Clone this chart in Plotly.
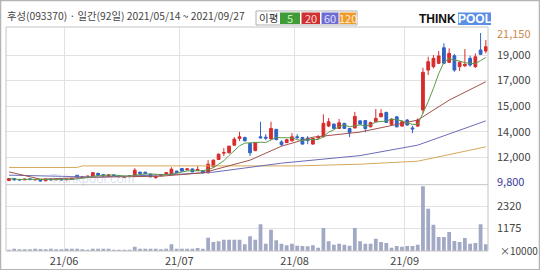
import plotly.graph_objects as go
import pandas as pd

# ---------------- data ----------------
days = list(range(92))  # trading days 2021/05/14 .. 2021/09/27
month_ticks = [10.5, 32.5, 54.5, 75.5]
month_labels = ["21/06", "21/07", "21/08", "21/09"]

opens = [9850, 10000, 9920, 9900, 9980, 9900, 9900, 9830, 9950, 9900,
         9940, 9900, 9950, 10250, 10100, 10150, 10150, 10400, 10300, 10200,
         10280, 10200, 10100, 10150, 10180, 10490, 10490, 10340, 10070, 10220,
         10380, 10340, 10570, 10770, 10670, 10740, 10620, 10590, 10440, 10900,
         11460, 11950, 11970, 12560, 13070, 13150, 12690, 12140, 13200, 13170,
         13040, 13770, 12810, 12750, 12890, 13200, 13150, 13100, 12640, 13120,
         13200, 14020, 14170, 13840, 14230, 13830, 13880, 14420, 14440, 13960,
         14350, 14730, 15070, 14150, 14730, 14020, 14480, 13880, 14020, 15250,
         18310, 18570, 18830, 20020, 18900, 19410, 18570, 18640, 19210, 18570,
         19850, 19770]
highs = [10050, 10050, 9950, 10000, 10000, 9960, 9920, 10000, 9980, 9950,
         9960, 9980, 10050, 10280, 10200, 10220, 10480, 10450, 10330, 10320,
         10300, 10230, 10200, 10250, 10800, 10530, 10510, 10370, 10260, 10330,
         10490, 10870, 10600, 10800, 10790, 10770, 10950, 10620, 11410, 11460,
         11920, 12330, 12520, 13170, 13580, 13200, 12730, 12780, 14350, 13400,
         14350, 13800, 12940, 13020, 13480, 13400, 13190, 13250, 13110, 13330,
         14920, 14630, 14210, 14560, 14260, 13860, 15110, 14460, 14480, 14340,
         15320, 15320, 15110, 14600, 14770, 14390, 14560, 14040, 14610, 18490,
         19330, 19460, 19770, 20360, 19980, 19540, 19000, 19920, 19410, 19590,
         21150, 20610]
lows = [9800, 9850, 9850, 9880, 9900, 9870, 9800, 9800, 9870, 9880,
        9880, 9880, 9930, 10080, 10080, 10120, 10120, 10200, 10150, 10180,
        10150, 10080, 10050, 10120, 10110, 10340, 10340, 10100, 10000, 10180,
        10340, 10300, 10420, 10530, 10620, 10490, 10590, 10400, 10400, 10850,
        11420, 11720, 11940, 12520, 12870, 12850, 11720, 12100, 13080, 12940,
        13000, 12940, 12480, 12720, 12850, 13020, 12600, 12640, 12600, 13020,
        13160, 13940, 13800, 13790, 13800, 13170, 13840, 14130, 13540, 13930,
        14310, 14700, 14260, 14110, 13930, 13980, 14060, 13480, 13960, 14990,
        17930, 18440, 18770, 18770, 18850, 18180, 18240, 18540, 18570, 18470,
        19460, 19590]
closes = [10000, 9900, 9900, 9950, 9920, 9930, 9820, 9960, 9900, 9930,
          9900, 9950, 10000, 10100, 10150, 10180, 10450, 10250, 10200, 10280,
          10200, 10150, 10150, 10200, 10640, 10380, 10380, 10130, 10150, 10300,
          10450, 10720, 10450, 10570, 10740, 10510, 10700, 10440, 11100, 11410,
          11870, 11980, 12480, 13020, 13200, 12890, 11970, 12740, 13120, 13100,
          13840, 12980, 12600, 12980, 13200, 13140, 12640, 12910, 13070, 13200,
          14230, 14350, 13840, 14270, 13840, 13520, 14760, 14170, 13830, 14300,
          14610, 14990, 14300, 14560, 13960, 14350, 14100, 13800, 14480, 18140,
          18950, 19210, 19390, 18830, 19590, 18310, 18900, 18750, 18700, 19330,
          19520, 20100]
volumes = [70, 121, 87, 87, 87, 121, 104, 87, 121, 87,
           87, 121, 121, 121, 87, 70, 121, 121, 121, 121,
           70, 70, 70, 70, 225, 121, 121, 121, 121, 87,
           121, 347, 121, 121, 121, 121, 156, 121, 694, 468,
           503, 590, 590, 590, 590, 347, 763, 590, 1388, 380,
           1110, 555, 380, 295, 380, 278, 260, 243, 295, 174,
           1197, 503, 330, 380, 330, 278, 1197, 503, 380, 380,
           642, 468, 416, 174, 260, 226, 260, 260, 330, 3365,
           2203, 1370, 729, 729, 989, 520, 468, 677, 382, 416,
           1388, 347]  # x10000 shares

# moving averages (day index, price)
ma20_days = [0, 6, 17, 29, 37, 41, 46, 52, 58, 67, 78, 84, 91]
ma20_vals = [10510, 9950, 10110, 10180, 10440, 10870, 11410, 12480, 13170, 13560, 14480, 16010, 17420]
ma60_days = [0, 17, 33, 39, 52, 67, 78, 91]
ma60_vals = [10260, 10110, 10340, 10490, 11180, 11760, 12560, 14420]
ma120_days = [0, 13, 14, 34, 55, 67, 78, 91]
ma120_vals = [10850, 10850, 10970, 10950, 10970, 11100, 11330, 12430]

price_grid = [11625, 13585, 15545, 17505, 19465]
price_labels = ["12,000", "14,000", "15,000", "17,000", "19,000"]
price_max, price_min = 21150, 9800
vol_grid = [1175, 2320]
vol_labels = ["1175", "2320"]

ma5 = pd.Series(closes).rolling(5, min_periods=1).mean().tolist()

# ---------------- layout helpers ----------------
W, H = 540, 270
ML, MR, MT, MB = 6, 52, 27, 19.25
PW, PH = W - ML - MR, H - MT - MB
def fx(px): return (px - ML) / PW
def fy(py): return (H - MB - py) / PH
split = fy(184.5)

RED, BLUE = "#d92b2b", "#2f63c6"
FONT = "Noto Sans CJK KR"

fig = go.Figure()
fig.add_trace(go.Scatter(x=ma120_days, y=ma120_vals, mode="lines",
                         line=dict(color="#d6a85a", width=1), xaxis="x", yaxis="y"))
fig.add_trace(go.Scatter(x=ma60_days, y=ma60_vals, mode="lines",
                         line=dict(color="#6b6bb8", width=1), xaxis="x", yaxis="y"))
fig.add_trace(go.Scatter(x=ma20_days, y=ma20_vals, mode="lines",
                         line=dict(color="#a0524a", width=1), xaxis="x", yaxis="y"))
fig.add_trace(go.Scatter(x=days, y=ma5, mode="lines",
                         line=dict(color="#5a9a4a", width=1), xaxis="x", yaxis="y"))
fig.add_trace(go.Candlestick(
    x=days, open=opens, high=highs, low=lows, close=closes,
    increasing=dict(line=dict(color=RED, width=1), fillcolor=RED),
    decreasing=dict(line=dict(color=BLUE, width=1), fillcolor=BLUE),
    whiskerwidth=0, xaxis="x", yaxis="y"))
fig.add_trace(go.Bar(x=days, y=volumes, width=0.72, marker=dict(color="#a2a9c4", line=dict(width=0)),
                     xaxis="x2", yaxis="y2"))

xr = [(ML - 9) / 5.24, (ML + PW - 9) / 5.24]
common_x = dict(range=xr, tickvals=month_ticks, showgrid=True, gridcolor="#e2e2e2",
                gridwidth=1, zeroline=False, showline=False, fixedrange=True, automargin=False)
fig.update_layout(
    width=W, height=H, margin=dict(l=ML, r=MR, t=MT, b=MB),
    paper_bgcolor="white", plot_bgcolor="white", showlegend=False,
    boxgap=0.25,
    xaxis=dict(**common_x, anchor="y", showticklabels=False, rangeslider=dict(visible=False)),
    xaxis2=dict(**common_x, anchor="y2", matches="x", ticktext=month_labels, ticks="",
                tickfont=dict(family=FONT, size=11, color="#444"), ticklabelstandoff=2),
    yaxis=dict(domain=[split, 1], range=[9531.5, 21610], side="right", tickvals=price_grid,
               ticktext=price_labels, showgrid=True, gridcolor="#e2e2e2", zeroline=False,
               ticks="", ticklabelstandoff=8, automargin=False,
               tickfont=dict(family=FONT, size=11, color="#444")),
    yaxis2=dict(domain=[0, split], range=[0, 3448], side="right", tickvals=vol_grid,
                ticktext=vol_labels, showgrid=True, gridcolor="#e2e2e2", zeroline=False,
                ticks="", ticklabelstandoff=8, automargin=False,
                tickfont=dict(family=FONT, size=11, color="#444")),
)

shapes = [
    dict(type="rect", xref="paper", yref="paper", x0=0, x1=1, y0=0, y1=1,
         line=dict(color="#c4c4c4", width=1)),
    dict(type="line", xref="paper", yref="paper", x0=0, x1=1, y0=split, y1=split,
         line=dict(color="#c4c4c4", width=1)),
    dict(type="rect", xref="paper", yref="paper", x0=fx(0.5), x1=fx(539.5), y0=fy(269.5), y1=fy(0.5),
         line=dict(color="#b4b4b4", width=1.5)),
    # legend boxes
    dict(type="rect", xref="paper", yref="paper", x0=fx(256), x1=fx(357), y0=fy(25), y1=fy(11),
         line=dict(color="#b0b0b0", width=1), fillcolor="white"),
    dict(type="rect", xref="paper", yref="paper", x0=fx(280), x1=fx(300), y0=fy(24), y1=fy(12.5),
         line=dict(width=0), fillcolor="#3f9b36"),
    dict(type="rect", xref="paper", yref="paper", x0=fx(301.5), x1=fx(320), y0=fy(24), y1=fy(12.5),
         line=dict(width=0), fillcolor="#cf3030"),
    dict(type="rect", xref="paper", yref="paper", x0=fx(321.5), x1=fx(338.5), y0=fy(24), y1=fy(12.5),
         line=dict(width=0), fillcolor="#6c6cd4"),
    dict(type="rect", xref="paper", yref="paper", x0=fx(339.5), x1=fx(356), y0=fy(24), y1=fy(12.5),
         line=dict(width=0), fillcolor="#ee9b2c"),
    dict(type="rect", xref="paper", yref="paper", x0=fx(458), x1=fx(491), y0=fy(25), y1=fy(12.5),
         line=dict(width=0), fillcolor="#5b8ee6"),
]

def ann(px, py, text, size=11, color="#444", xanchor="left", bold=False, family=FONT):
    return dict(x=fx(px), y=fy(py), xref="paper", yref="paper", text=("<b>%s</b>" % text) if bold else text,
                showarrow=False, xanchor=xanchor, yanchor="middle",
                font=dict(family=family, size=size, color=color))

annotations = [
    ann(5, 16, "후성(093370) · 일간(92일) 2021/05/14 ~ 2021/09/27", size=10.3, color="#444"),
    ann(268, 18, "이평", size=10.5, color="#333", xanchor="center"),
    ann(290, 18.3, "5", size=11, color="#c9efbf", xanchor="center"),
    ann(310.7, 18.3, "20", size=11, color="#ffd6d6", xanchor="center"),
    ann(330, 18.3, "60", size=11, color="#e0e0ff", xanchor="center"),
    ann(347.7, 18.3, "120", size=11, color="#fff0d8", xanchor="center"),
    ann(458, 19, "THINK", size=12, color="#111", xanchor="right", bold=True, family="Liberation Sans"),
    ann(474.5, 19, "POOL", size=12, color="white", xanchor="center", bold=True, family="Liberation Sans"),
    dict(x=1, xref="paper", y=price_max, yref="y", text="21,150", showarrow=False, xanchor="left",
         xshift=7, yanchor="middle", font=dict(family=FONT, size=11, color="#cc8a4a")),
    dict(x=1, xref="paper", y=price_min, yref="y", text="9,800", showarrow=False, xanchor="left",
         xshift=7, yanchor="middle", font=dict(family=FONT, size=11, color="#3a3a9c")),
    dict(x=1, xref="paper", y=0, yref="y2", text="×10000", showarrow=False, xanchor="left",
         xshift=10, yanchor="middle", font=dict(family=FONT, size=10, color="#444")),
    ann(92, 178, "Thinkpool.com", size=13, color="rgba(150,165,215,0.35)", xanchor="center",
        family="Liberation Sans"),
]
fig.update_layout(shapes=shapes, annotations=annotations)
fig.write_html("out.html")
